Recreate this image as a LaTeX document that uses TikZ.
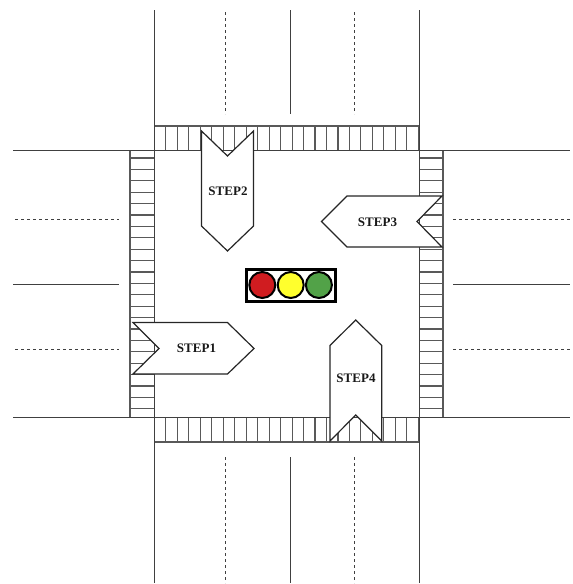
\documentclass[tikz,border=0pt]{standalone}
\usepackage{fontspec}
\setmainfont{Liberation Serif}
\usepackage{tikz}

\definecolor{lampred}{RGB}{208,28,32}
\definecolor{lampyellow}{RGB}{255,255,45}
\definecolor{lampgreen}{RGB}{82,162,72}

\tikzset{
  road/.style={black!75,line width=1pt},
  lane/.style={black!75,line width=.8pt,dash pattern=on 3pt off 3pt},
  stripe/.style={black!65,line width=1.1pt},
  pointer/.style={draw=black!85,fill=white,line width=1.2pt,line join=miter},
  steplabel/.style={font=\bfseries\fontsize{13}{15}\selectfont,text=black!90,inner sep=0pt},
  lamp/.style={draw=black,line width=2pt}
}

\begin{document}
\begin{tikzpicture}[x=1pt,y=-1pt]
  \useasboundingbox (0,0) rectangle (573,584);

  % crossings
  \foreach \k in {0,...,23} {
    \draw[stripe] ({154.3+\k*11.48},126) -- ({154.3+\k*11.48},150);
    \draw[stripe] ({154.3+\k*11.48},417) -- ({154.3+\k*11.48},442);
  }
  \foreach \k in {0,...,22} {
    \draw[stripe] (130,{158+\k*11.4}) -- (154,{158+\k*11.4});
    \draw[stripe] (419,{158+\k*11.4}) -- (443,{158+\k*11.4});
  }
  \draw[stripe] (154,126) -- (419,126);
  \draw[stripe] (154,442) -- (419,442);
  \draw[stripe] (130,150) -- (130,417);
  \draw[stripe] (443,150) -- (443,417);

  % roads
  \foreach \x in {154,419} {
    \draw[road] (\x,10) -- (\x,150);
    \draw[road] (\x,417) -- (\x,583);
  }
  \draw[road] (154,150) -- (154,417);
  \draw[road] (419,150) -- (419,417);
  \foreach \y in {150,417} {
    \draw[road] (13,\y) -- (154,\y);
    \draw[road] (419,\y) -- (570,\y);
  }
  \draw[road] (154,150) -- (419,150);
  \draw[road] (154,417) -- (419,417);
  \draw[road] (290,10) -- (290,114);
  \draw[road] (290,457) -- (290,583);
  \draw[road] (13,284) -- (119,284);
  \draw[road] (453,284) -- (570,284);

  % lanes
  \foreach \x in {225,354} {
    \draw[lane] (\x,12) -- (\x,114);
    \draw[lane] (\x,457) -- (\x,583);
  }
  \foreach \y in {219,349} {
    \draw[lane] (15,\y) -- (119,\y);
    \draw[lane] (453,\y) -- (570,\y);
  }

  % steps
  \draw[pointer] (133,322.5) -- (227.5,322.5) -- (254,348.5) -- (227.5,374)
    -- (133,374) -- (159,348.5) -- cycle;
  \node[steplabel] (step1) at (196.5,348.5) {STEP1};
  \draw[pointer] (201.5,131) -- (227.5,156) -- (253.5,131) -- (253.5,226)
    -- (227.5,251) -- (201.5,226) -- cycle;
  \node[steplabel] (step2) at (228,191.5) {STEP2};
  \draw[pointer] (442,196) -- (347,196) -- (321.5,221.5) -- (347,247)
    -- (442,247) -- (417,221.5) -- cycle;
  \node[steplabel] (step3) at (377.5,222) {STEP3};
  \draw[pointer] (330,441) -- (330,345.5) -- (355.7,320) -- (381.7,345.5)
    -- (381.7,441) -- (355.7,415) -- cycle;
  \node[steplabel] (step4) at (356,378) {STEP4};

  % signal
  \draw[black,line width=3pt,fill=white] (246.3,269.5) rectangle (335.2,301);
  \draw[lamp,fill=lampred] (262.3,285) circle (13);
  \draw[lamp,fill=lampyellow] (290.7,285) circle (13);
  \draw[lamp,fill=lampgreen] (318.9,285) circle (13);
\end{tikzpicture}
\end{document}
